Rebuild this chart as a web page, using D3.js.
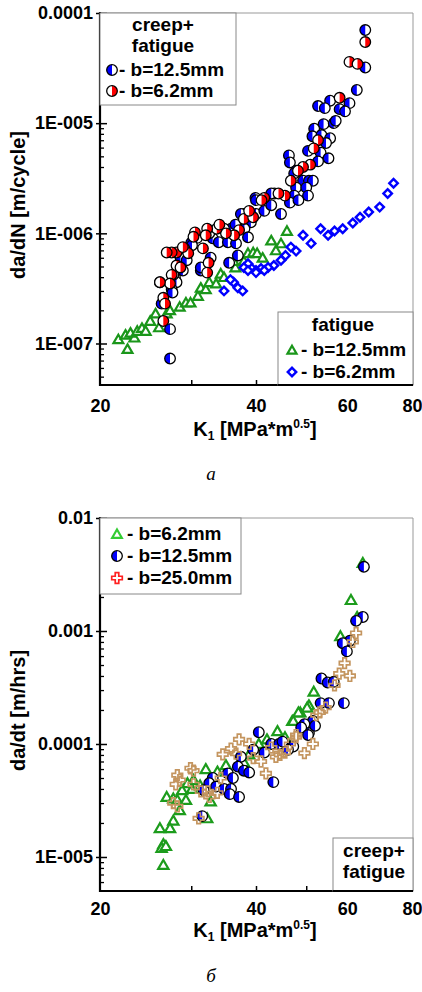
<!DOCTYPE html>
<html>
<head>
<meta charset="utf-8">
<script src="https://cdn.jsdelivr.net/npm/d3@7"></script>
<style>
body { margin: 0; background: #fff; }
svg { display: block; font-family: "Liberation Sans", Arial, sans-serif; }
</style>
</head>
<body>
<div id="container"></div>
<script>
// ---- DATA (K1 in MPa*m^0.5, rate) ----
// panel a: creep+fatigue, b=12.5mm (blue half circles)
let cfBlue = [[65,7.0e-5],[65,3.2e-5],[62.6,2.0e-5],[55.6,1.6e-5],[52.7,1.43e-5],[54.3,1.37e-5],[60.6,1.52e-5],[58,1.34e-5],[59.4,1.28e-5],
  [54,9.8e-6],[56.5,1.0e-5],[51.8,8.9e-6],[51.4,7.6e-6],[53.5,7.8e-6],[55.6,7.3e-6],[54.6,6.6e-6],[50.4,5.6e-6],[53.3,5.4e-6],[55.2,4.8e-6],
  [52.7,4.5e-6],[46.3,5.1e-6],[46.5,4.4e-6],[47.8,3.7e-6],[49.3,3.0e-6],[50.6,3.0e-6],[51.5,3.0e-6],[47.8,2.6e-6],[50,2.6e-6],[47.4,2.2e-6],
  [50.4,2.2e-6],[43.4,2.3e-6],[39.9,2.1e-6],[47.4,3.5e-6],[42.8,2.3e-6],[37.9,1.5e-6],[40,1.5e-6],[41.5,1.6e-6],[42.8,1.8e-6],[44.7,1.5e-6],
  [46.5,1.9e-6],[48.3,2.0e-6],[37.4,1.5e-6],[39.1,1.26e-6],[35.8,1.1e-6],[34.7,1.1e-6],[33,9e-7],[33.9,8.3e-7],[35.3,8.3e-7],[30.8,9.1e-7],
  [28.6,6.0e-7],[29.4,5.7e-7],[28.9,4.6e-7],[31.3,4.6e-7],[27.9,4e-7],[28.1,3.6e-7],[27.5,3.1e-7],[27.7,4.2e-7],[27.6,2.9e-7],[27.3,1.35e-7],
  [27.3,7.3e-8],[31.3,4.9e-7],[35.5,5.4e-7],[38,1.1e-6],[36.5,1.2e-6],[32.5,1.0e-6],[30,8.2e-7],[40,2.0e-6],[38.6,9.2e-7],[36.6,8.1e-7],
  [30.1,7.8e-7],[32.7,6e-7],[26.1,3.6e-7],[26.3,2.3e-7],[36.9,6.3e-7],[57,1.05e-5]];
// panel a: creep+fatigue, b=6.2mm (red half circles)
let cfRed = [[65,5.45e-5],[60.6,3.6e-5],[62.8,3.45e-5],[58,1.7e-5],[52.7,7.0e-6],[51.7,5.9e-6],[50.9,4.2e-6],[49.3,4.0e-6],[48.2,3.7e-6],
  [46.7,3.0e-6],[45.5,2.2e-6],[41.5,2.1e-6],[41,2.0e-6],[44.2,2.3e-6],[37.9,1.35e-6],[37.1,1.07e-6],[36.3,9.6e-7],[35,1e-6],[33.6,1.1e-6],
  [32.2,1.1e-6],[32,9.6e-7],[30.5,1.02e-6],[31.6,7.3e-7],[29.1,7.3e-7],[29.6,6.6e-7],[28.1,6.7e-7],[27.5,6.7e-7],[32.4,5.4e-7],[28.1,5.1e-7],
  [32.2,4.4e-7],[27.5,4.2e-7],[27.3,3.5e-7],[28.6,4.9e-7],[26.5,2.6e-7],[26.7,2.3e-7],[26.5,1.6e-7],[26.1,3.6e-7],[39.5,1.4e-6],[34,1.2e-6],
  [38.8,1.6e-6],[30.3,9.3e-7],[28.9,7.5e-7],[26.9,6.7e-7]];
// panel a: fatigue, b=12.5mm (green triangles)
let fGreen = [[21.7,1.09e-7],[22.6,8.9e-8],[22.4,1.2e-7],[23.3,1.13e-7],[22.9,1.25e-7],[23.6,1.3e-7],[24.1,1.38e-7],[24.5,1.3e-7],[25,1.6e-7],
  [25.6,1.87e-7],[26,1.4e-7],[26.9,1.87e-7],[27.3,2.0e-7],[28.5,2.15e-7],[29.3,2.35e-7],[29.9,2.35e-7],[30.9,2.7e-7],[31.3,3.2e-7],[32,3.1e-7],
  [32.5,3.6e-7],[33.5,3.5e-7],[34.2,4.3e-7],[34.7,4.0e-7],[36.5,4.9e-7],[36.2,5.6e-7],[37.9,5.6e-7],[38.6,6.6e-7],[39.5,6.7e-7],[40.2,6.6e-7],
  [41.2,6.0e-7],[42.8,8.6e-7],[43.7,7.0e-7],[44.7,8.1e-7],[45.9,1.05e-6]];
// panel a: fatigue, b=6.2mm (blue diamonds)
let fBlue = [[73.7,2.85e-6],[71.8,2.3e-6],[69.3,1.73e-6],[66,1.56e-6],[63.5,1.4e-6],[61.5,1.24e-6],[58.8,1.1e-6],[56.7,1.05e-6],[55.1,9.6e-7],
  [53.3,1.1e-6],[51.1,8.1e-7],[49.3,9.6e-7],[47.8,6.9e-7],[46.7,7.5e-7],[45.6,6.3e-7],[44.7,5.7e-7],[43.3,5.1e-7],[42.2,4.9e-7],[40.9,4.8e-7],
  [40,4.6e-7],[39.1,4.9e-7],[38.6,5.3e-7],[37.9,4.9e-7],[40,4.4e-7],[36.2,3.6e-7],[34.7,3.0e-7],[36.9,3.2e-7],[37.7,3.0e-7],[35.7,3.8e-7],
  [38.6,4.6e-7],[41.5,4.6e-7]];

// panel б: da/dt, b=6.2mm (green triangles)
let dtGreen = [[64.3,4.0e-3],[61,1.88e-3],[62.7,1.33e-3],[58.2,9.0e-4],[51.7,2.9e-4],[50.6,2.2e-4],[48.7,1.9e-4],[47,1.6e-4],[48.3,1.9e-4],
  [47.2,1.6e-4],[50.2,2.1e-4],[45.5,1.15e-4],[40.5,1.0e-4],[38.8,8.1e-5],[37.9,6.9e-5],[32,6.0e-5],[33.7,5.7e-5],[30.3,4.8e-5],[30.1,4.0e-5],
  [28.8,3.9e-5],[26.9,3.4e-5],[27.7,3.3e-5],[28.2,3.2e-5],[29.3,3.2e-5],[28.5,2.6e-5],[32.7,3.1e-5],[32.2,2.2e-5],[27.7,2.1e-5],[27.3,1.8e-5],
  [26.1,1.8e-5],[26.5,1.3e-5],[26.3,1.2e-5],[26.8,1.25e-5],[26.5,8.5e-6],[31.2,4.3e-5],[35,6.5e-5],[42,1.1e-4],[44,1.3e-4],[29.5,4.5e-5]];
// panel б: b=12.5mm (blue half circles)
let dtBlue = [[64.6,3.7e-3],[64.3,1.33e-3],[62.4,1.23e-3],[60.7,8.2e-4],[58.8,7.8e-4],[59.9,6.6e-4],[53.5,3.8e-4],[55,3.5e-4],[56.5,3.55e-4],
  [53.3,2.3e-4],[55.3,2.3e-4],[59.1,2.3e-4],[51.5,1.6e-4],[49.6,1.5e-4],[50.6,1.25e-4],[48.9,1.4e-4],[46.7,9.5e-5],[50.4,1.2e-4],[40.5,1.27e-4],
  [42.8,1.0e-4],[44.3,1.0e-4],[47.2,9.5e-5],[46.1,8.9e-5],[39.5,8.9e-5],[41.5,8.4e-5],[37.4,7.7e-5],[43.2,4.6e-5],[36.9,6.3e-5],[37.9,5.8e-5],
  [38.8,5.6e-5],[35.3,5.5e-5],[36.1,5.0e-5],[33,5.0e-5],[32.5,4.5e-5],[33.5,4.2e-5],[34.7,4.0e-5],[35.8,4.0e-5],[35.6,3.6e-5],[31.7,3.9e-5],
  [37.1,3.4e-5],[31.5,2.3e-5],[45,1.05e-4],[52,1.45e-4]];
// panel б: b=25.0mm (tan crosses)
let dtTan = [[62.4,9.6e-4],[61.5,8.0e-4],[59.3,5.2e-4],[57.9,4.2e-4],[60.7,4.0e-4],[56.7,3.3e-4],[53.1,1.9e-4],[52.3,1.8e-4],[51.5,1.0e-4],
  [49.6,8.3e-5],[47.8,1.15e-4],[47.8,1.2e-4],[37.1,1.1e-4],[38.8,1.0e-4],[35.8,9.1e-5],[34.5,8.1e-5],[36.6,8.2e-5],[40.9,7.0e-5],[43.7,7.7e-5],
  [42.8,9.3e-5],[45.5,8.4e-5],[41.8,5.5e-5],[34.2,5.0e-5],[33.7,3.7e-5],[32.5,3.4e-5],[31,2.2e-5],[28.2,5.3e-5],[28.5,4.8e-5],[28,4.4e-5],
  [29.9,6.1e-5],[30.3,5.8e-5],[27.7,3.0e-5],[28.2,2.8e-5],[30.3,4.4e-5],[31.3,3.8e-5],[32.3,3.8e-5],[44.5,8.0e-5],[39.5,7.5e-5],[46.5,1.0e-4],
  [54.5,2.1e-4]];

// tick labels
let xLabels = [20, 40, 60, 80];
let xMinor = [30, 40, 50, 60, 70];
let yTopMajor = [1e-4, 1e-5, 1e-6, 1e-7];
let yTopLabels = ["0.0001", "1E-005", "1E-006", "1E-007"];
let yBotMajor = [1e-2, 1e-3, 1e-4, 1e-5];
let yBotLabels = ["0.01", "0.001", "0.0001", "1E-005"];

// ---- SVG ----
let w = 422;
let h = 992;
let left = 100;
let right = 412;
let tickFont = 18;
let legFont = 19;

let viz = d3.select("#container")
  .append("svg")
    .attr("width", w)
    .attr("height", h)
;

let xScale = d3.scaleLog().domain([20, 80]).range([left, right]);

function minorTicks(domain) {
  let out = [];
  let lo = Math.floor(Math.log10(domain[0]));
  let hi = Math.ceil(Math.log10(domain[1]));
  for (let e = lo; e < hi; e++) {
    for (let m = 2; m <= 9; m++) {
      let v = m * Math.pow(10, e);
      if (v >= domain[0] && v <= domain[1]) out.push(v);
    }
  }
  return out;
}

function drawPanel(opt) {
  let g = viz.append("g");
  let yScale = d3.scaleLog().domain(opt.yDomain).range([opt.bottom, opt.top]);

  // frame (thin gray top and right)
  g.append("line").attr("x1", left).attr("x2", right + 1).attr("y1", opt.top).attr("y2", opt.top)
    .attr("stroke", "#999").attr("stroke-width", 1);
  g.append("line").attr("x1", right + 1).attr("x2", right + 1).attr("y1", opt.top).attr("y2", opt.bottom)
    .attr("stroke", "#999").attr("stroke-width", 1);

  // y axis: minor ticks
  let yMinorAxis = d3.axisLeft(yScale).tickValues(minorTicks(opt.yDomain)).tickFormat("").tickSizeInner(-4).tickSizeOuter(0);
  let yMinG = g.append("g").attr("transform", "translate(" + left + ",0)").call(yMinorAxis);
  yMinG.select(".domain").remove();
  yMinG.selectAll("line").attr("stroke", "#000").attr("stroke-width", 1.3);

  // y axis: decades with labels
  let yAxis = d3.axisLeft(yScale).tickValues(opt.yMajor).tickFormat((d, i) => opt.yLabels[i])
    .tickSizeInner(-7).tickSizeOuter(0).tickPadding(7);
  let yG = g.append("g").attr("transform", "translate(" + left + ",0)").call(yAxis);
  yG.attr("font-family", null).attr("font-size", null);
  yG.select(".domain").remove();
  yG.selectAll("line").attr("x1", -4).attr("stroke", "#000").attr("stroke-width", 1.5);
  yG.selectAll("text").attr("font-size", tickFont).attr("font-weight", "bold").attr("fill", "#000");

  // x axis: small ticks
  let xTickAxis = d3.axisBottom(xScale).tickValues(xMinor).tickFormat("").tickSizeInner(-5).tickSizeOuter(0);
  let xTG = g.append("g").attr("transform", "translate(0," + opt.bottom + ")").call(xTickAxis);
  xTG.select(".domain").remove();
  xTG.selectAll("line").attr("stroke", "#000").attr("stroke-width", 1.5);

  // x axis labels
  let xAxis = d3.axisBottom(xScale).tickValues(xLabels).tickFormat(d3.format("d")).tickSize(0).tickPadding(opt.xPad);
  let xG = g.append("g").attr("transform", "translate(0," + opt.bottom + ")").call(xAxis);
  xG.attr("font-family", null).attr("font-size", null);
  xG.select(".domain").remove();
  xG.selectAll("text").attr("font-size", tickFont).attr("font-weight", "bold").attr("fill", "#000");

  // axis lines
  g.append("line").attr("x1", left).attr("x2", left).attr("y1", opt.top - 1).attr("y2", opt.bottom + 1)
    .attr("stroke", "#000").attr("stroke-width", 2.2);
  g.append("line").attr("x1", left - 1).attr("x2", right + 1).attr("y1", opt.bottom).attr("y2", opt.bottom)
    .attr("stroke", "#000").attr("stroke-width", 2.2);

  // axis titles
  g.append("text")
    .attr("transform", "translate(25," + ((opt.top + opt.bottom) / 2 + 6) + ") rotate(-90)")
    .attr("text-anchor", "middle")
    .attr("font-size", 20).attr("font-weight", "bold")
    .text(opt.yTitle);

  let xt = g.append("text")
    .attr("x", 255).attr("y", opt.xTitleY)
    .attr("text-anchor", "middle")
    .attr("font-size", 20).attr("font-weight", "bold");
  xt.append("tspan").text("K");
  xt.append("tspan").attr("font-size", 12).attr("dy", 4).text("1");
  xt.append("tspan").attr("dy", -4).text(" [MPa*m");
  xt.append("tspan").attr("font-size", 12).attr("dy", -8).text("0.5");
  xt.append("tspan").attr("dy", 8).text("]");

  // caption
  g.append("text")
    .attr("x", 211).attr("y", opt.captionY)
    .attr("text-anchor", "middle")
    .attr("font-family", "'Liberation Serif', 'DejaVu Serif', serif")
    .attr("font-style", "italic")
    .attr("font-size", 19)
    .text(opt.caption);

  return { g: g, y: yScale };
}

// ---- marker helpers ----
function halfCircle(sel, x, y, color, side) {
  let r = 5.3;
  let m = sel.append("g").attr("transform", "translate(" + x + "," + y + ")");
  m.append("circle").attr("r", r).attr("fill", "#fff");
  let sweep = side == "left" ? 0 : 1;
  m.append("path").attr("d", "M0," + (-r) + " A" + r + "," + r + " 0 0 " + sweep + " 0," + r + " Z").attr("fill", color);
  m.append("circle").attr("r", r).attr("fill", "none").attr("stroke", "#000").attr("stroke-width", 1.3);
}
function triangle(sel, x, y, color, size) {
  sel.append("path")
    .attr("d", d3.symbol(d3.symbolTriangle, size)())
    .attr("transform", "translate(" + x + "," + (y + 1) + ")")
    .attr("fill", "#fff").attr("stroke", color).attr("stroke-width", 2.2);
}
function diamond(sel, x, y, color) {
  sel.append("path")
    .attr("d", d3.symbol(d3.symbolSquare, 36)())
    .attr("transform", "translate(" + x + "," + y + ") rotate(45)")
    .attr("fill", "#fff").attr("stroke", color).attr("stroke-width", 2.4);
}
function cross(sel, x, y, color) {
  sel.append("path")
    .attr("d", d3.symbol(d3.symbolCross, 62)())
    .attr("transform", "translate(" + x + "," + y + ")")
    .attr("fill", "none").attr("stroke", color).attr("stroke-width", 1.7);
}
function legendText(sel, x, y, txt, anchor) {
  sel.append("text").attr("x", x).attr("y", y)
    .attr("text-anchor", anchor || "start")
    .attr("font-size", legFont).attr("font-weight", "bold")
    .text(txt);
}

// ---- PANEL a ----
let pa = drawPanel({
  top: 13, bottom: 385, yDomain: [4.2e-8, 1e-4],
  yMajor: yTopMajor, yLabels: yTopLabels,
  yTitle: "da/dN [m/cycle]", xPad: 14, xTitleY: 436,
  caption: "а", captionY: 480
});
let gA = pa.g.append("g");
fGreen.forEach(d => triangle(gA, xScale(d[0]), pa.y(d[1]), "#1a961a", 42));
fBlue.forEach(d => diamond(gA, xScale(d[0]), pa.y(d[1]), "#0000ff"));
cfBlue.forEach(d => halfCircle(gA, xScale(d[0]), pa.y(d[1]), "#0000ff", "left"));
cfRed.forEach(d => halfCircle(gA, xScale(d[0]), pa.y(d[1]), "#ff0000", "right"));

// legend creep+fatigue
let legA = pa.g.append("g");
legA.append("rect").attr("x", left).attr("y", 13).attr("width", 136).attr("height", 92)
  .attr("fill", "#fff").attr("stroke", "#888").attr("stroke-width", 1);
legendText(legA, 163, 31, "creep+", "middle");
legendText(legA, 163, 52, "fatigue", "middle");
halfCircle(legA, 112, 70, "#0000ff", "left");
legendText(legA, 119, 76, "- b=12.5mm");
halfCircle(legA, 112, 91, "#ff0000", "right");
legendText(legA, 119, 97, "- b=6.2mm");

// legend fatigue
let legB = pa.g.append("g");
legB.append("rect").attr("x", 278).attr("y", 312).attr("width", 135).attr("height", 73)
  .attr("fill", "#fff").attr("stroke", "#888").attr("stroke-width", 1);
legendText(legB, 343, 331, "fatigue", "middle");
triangle(legB, 292, 350, "#1a961a", 36);
legendText(legB, 301, 356, "- b=12.5mm");
diamond(legB, 292, 372, "#0000ff");
legendText(legB, 301, 378, "- b=6.2mm");
// redraw bottom axis line over the legend box
pa.g.append("line").attr("x1", 278).attr("x2", right + 1).attr("y1", 385).attr("y2", 385).attr("stroke", "#000").attr("stroke-width", 2.2);

// ---- PANEL б ----
let pb = drawPanel({
  top: 518, bottom: 891, yDomain: [5e-6, 1e-2],
  yMajor: yBotMajor, yLabels: yBotLabels,
  yTitle: "da/dt [m/hrs]", xPad: 11, xTitleY: 937,
  caption: "б", captionY: 982
});
let gB = pb.g.append("g");
dtGreen.forEach(d => triangle(gB, xScale(d[0]), pb.y(d[1]), "#1c9c1c", 46));
dtBlue.forEach(d => halfCircle(gB, xScale(d[0]), pb.y(d[1]), "#0000ff", "left"));
dtTan.forEach(d => cross(gB, xScale(d[0]), pb.y(d[1]), "#c4955f"));

let legC = pb.g.append("g");
legC.append("rect").attr("x", left).attr("y", 518).attr("width", 141).attr("height", 76)
  .attr("fill", "#fff").attr("stroke", "#888").attr("stroke-width", 1);
triangle(legC, 117, 534, "#33cc33", 40);
legendText(legC, 127, 540, "- b=6.2mm");
halfCircle(legC, 117, 556, "#0000ff", "left");
legendText(legC, 127, 562, "- b=12.5mm");
cross(legC, 117, 578, "#ff2020");
legendText(legC, 127, 584, "- b=25.0mm");

let legD = pb.g.append("g");
legD.append("rect").attr("x", 333).attr("y", 838).attr("width", 80).attr("height", 53)
  .attr("fill", "#fff").attr("stroke", "#888").attr("stroke-width", 1);
legendText(legD, 374, 857, "creep+", "middle");
legendText(legD, 374, 878, "fatigue", "middle");
pb.g.append("line").attr("x1", 333).attr("x2", right + 1).attr("y1", 891).attr("y2", 891).attr("stroke", "#000").attr("stroke-width", 2.2);
</script>
</body>
</html>
